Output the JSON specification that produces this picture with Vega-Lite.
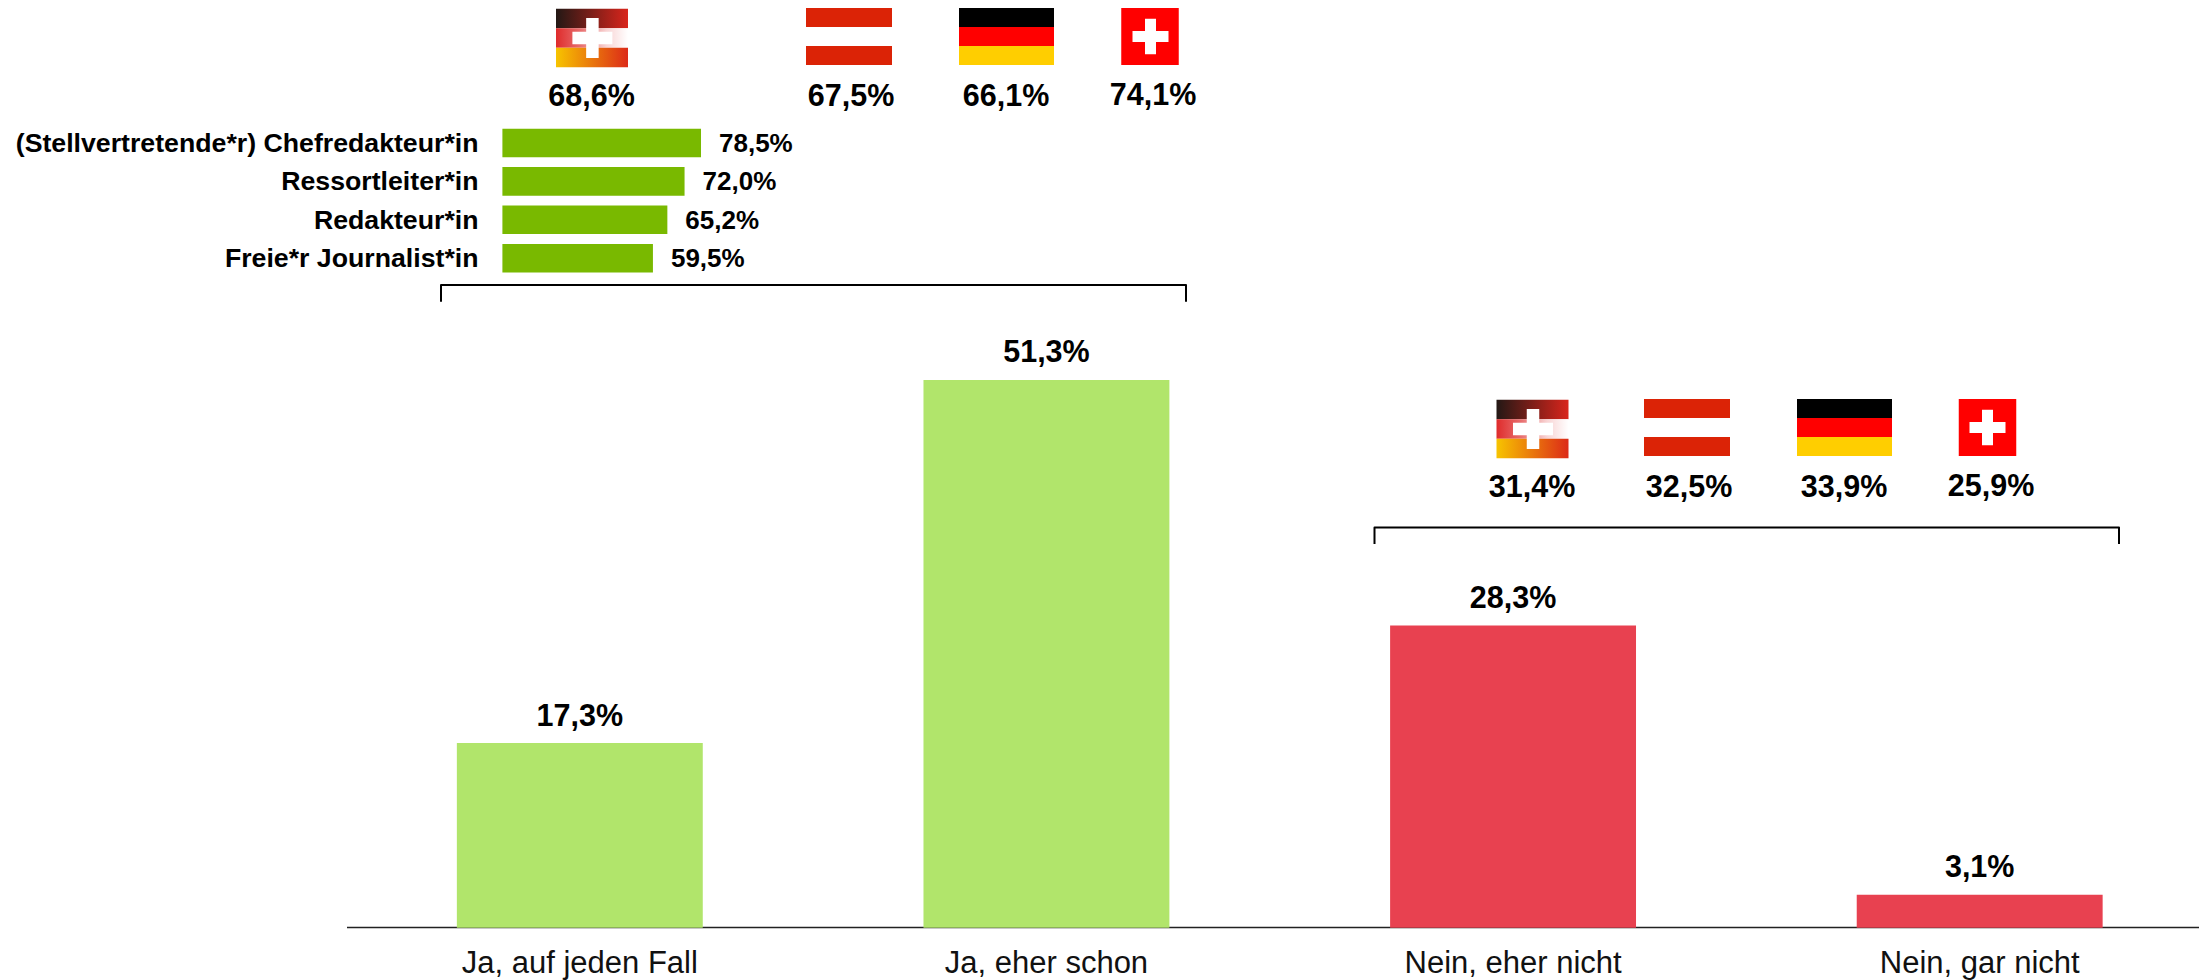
{
"$schema":"https://vega.github.io/schema/vega-lite/v6.json",
"width":2199,"height":980,"padding":0,"autosize":{"type":"none"},
"background":"white",
"config":{"view":{"stroke":null},"font":"Liberation Sans","text":{"font":"Liberation Sans"},"scale":{"pointPadding":0}},
"datasets":{
"haupt":[
{"antwort":"Ja, auf jeden Fall","wert":17.3,"text":"17,3%","richtung":"Ja"},
{"antwort":"Ja, eher schon","wert":51.3,"text":"51,3%","richtung":"Ja"},
{"antwort":"Nein, eher nicht","wert":28.3,"text":"28,3%","richtung":"Nein"},
{"antwort":"Nein, gar nicht","wert":3.1,"text":"3,1%","richtung":"Nein"}],
"position":[
{"position":"(Stellvertretende*r) Chefredakteur*in","wert":78.5,"text":"78,5%"},
{"position":"Ressortleiter*in","wert":72.0,"text":"72,0%"},
{"position":"Redakteur*in","wert":65.2,"text":"65,2%"},
{"position":"Freie*r Journalist*in","wert":59.5,"text":"59,5%"}],
"laender":[
{"gruppe":"Ja","land":"DACH","wert":68.6,"text":"68,6%"},
{"gruppe":"Ja","land":"AT","wert":67.5,"text":"67,5%"},
{"gruppe":"Ja","land":"DE","wert":66.1,"text":"66,1%"},
{"gruppe":"Ja","land":"CH","wert":74.1,"text":"74,1%"},
{"gruppe":"Nein","land":"DACH","wert":31.4,"text":"31,4%"},
{"gruppe":"Nein","land":"AT","wert":32.5,"text":"32,5%"},
{"gruppe":"Nein","land":"DE","wert":33.9,"text":"33,9%"},
{"gruppe":"Nein","land":"CH","wert":25.9,"text":"25,9%"}],
"klammer":[
{"klammer":"Ja","schritt":1,"seite":"links","ebene":"fuss"},
{"klammer":"Ja","schritt":2,"seite":"links","ebene":"kopf"},
{"klammer":"Ja","schritt":3,"seite":"rechts","ebene":"kopf"},
{"klammer":"Ja","schritt":4,"seite":"rechts","ebene":"fuss"},
{"klammer":"Nein","schritt":1,"seite":"links","ebene":"fuss"},
{"klammer":"Nein","schritt":2,"seite":"links","ebene":"kopf"},
{"klammer":"Nein","schritt":3,"seite":"rechts","ebene":"kopf"},
{"klammer":"Nein","schritt":4,"seite":"rechts","ebene":"fuss"}]
},
"resolve":{"scale":{"x":"independent","y":"independent","color":"independent"},"axis":{"x":"independent","y":"independent"}},
"layer":[
{"data":{"name":"haupt"},"mark":{"type":"bar"},
"encoding":{
"x":{"field":"antwort","type":"nominal","sort":null,"scale":{"type":"band","domain":["Ja, auf jeden Fall","Ja, eher schon","Nein, eher nicht","Nein, gar nicht"],"range":[346.5,2213],"paddingInner":0.473,"paddingOuter":0.2365},
"axis":{"title":null,"orient":"bottom","offset":-53,"ticks":false,"labelAngle":0,"labelFontSize":31,"labelFont":"Liberation Sans","labelColor":"#111111","labelPadding":21,"labelLimit":0,"domainColor":"#222222","domainWidth":1.6,"grid":false}},
"y":{"field":"wert","type":"quantitative","scale":{"domain":[0,60],"range":[927.8,287],"nice":false},"axis":null},
"color":{"field":"richtung","type":"nominal","scale":{"domain":["Ja","Nein"],"range":["#B1E56B","#E84150"]},"legend":null}}},
{"data":{"name":"haupt"},"mark":{"type":"text","baseline":"alphabetic","dy":-17.5,"fontSize":30.5,"fontWeight":"bold","color":"#000000"},
"encoding":{
"x":{"field":"antwort","type":"nominal","sort":null,"scale":{"type":"band","domain":["Ja, auf jeden Fall","Ja, eher schon","Nein, eher nicht","Nein, gar nicht"],"range":[346.5,2213],"paddingInner":0.473,"paddingOuter":0.2365},"axis":null},
"y":{"field":"wert","type":"quantitative","scale":{"domain":[0,60],"range":[927.8,287],"nice":false},"axis":null},
"text":{"field":"text"}}},
{"data":{"name":"position"},"mark":{"type":"bar","color":"#79B900"},
"encoding":{
"x":{"field":"wert","type":"quantitative","scale":{"domain":[0,100],"range":[502.4,755.4],"nice":false},"axis":null},
"y":{"field":"position","type":"nominal","sort":null,"scale":{"type":"band","range":[123.8,277.4],"paddingInner":0.255,"paddingOuter":0.1275},
"axis":{"title":null,"orient":"left","offset":-478,"ticks":false,"domain":false,"grid":false,"labelPadding":0,"labelOffset":1,"labelFontSize":26.7,"labelFontWeight":"bold","labelFont":"Liberation Sans","labelColor":"#000000","labelLimit":0}}}},
{"data":{"name":"position"},"mark":{"type":"text","align":"left","dx":18,"dy":1,"fontSize":26,"fontWeight":"bold","color":"#000000"},
"encoding":{
"x":{"field":"wert","type":"quantitative","scale":{"domain":[0,100],"range":[502.4,755.4],"nice":false},"axis":null},
"y":{"field":"position","type":"nominal","sort":null,"scale":{"type":"band","range":[123.8,277.4],"paddingInner":0.255,"paddingOuter":0.1275},"axis":null},
"text":{"field":"text"}}},

{"data":{"name":"klammer"},"transform":[{"filter":"datum.klammer==='Ja'"}],"mark":{"type":"line","color":"#000000","strokeWidth":2,"strokeJoin":"round"},
"encoding":{"order":{"field":"schritt","type":"quantitative"},
"x":{"field":"seite","type":"nominal","scale":{"type":"point","domain":["links","rechts"],"range":[441,1186]},"axis":null},
"y":{"field":"ebene","type":"nominal","scale":{"type":"point","domain":["kopf","fuss"],"range":[285,301.7]},"axis":null}}},
{"data":{"name":"klammer"},"transform":[{"filter":"datum.klammer==='Nein'"}],"mark":{"type":"line","color":"#000000","strokeWidth":2,"strokeJoin":"round"},
"encoding":{"order":{"field":"schritt","type":"quantitative"},
"x":{"field":"seite","type":"nominal","scale":{"type":"point","domain":["links","rechts"],"range":[1374.5,2119]},"axis":null},
"y":{"field":"ebene","type":"nominal","scale":{"type":"point","domain":["kopf","fuss"],"range":[527.5,544]},"axis":null}}},

{"data":{"name":"laender"},"transform":[{"filter":"datum.land==='AT'"}],"mark":{"type":"rect","width":86,"height":19,"color":"#DB2306"},
"encoding":{
"x":{"field":"gruppe","type":"nominal","scale":{"type":"point","domain":["Ja","Nein"],"range":[849,1687]},"axis":null},
"y":{"field":"gruppe","type":"nominal","scale":{"type":"point","domain":["Ja","Nein"],"range":[17.5,408.5]},"axis":null}}},
{"data":{"name":"laender"},"transform":[{"filter":"datum.land==='AT'"}],"mark":{"type":"rect","width":86,"height":19,"color":"#DB2306"},
"encoding":{
"x":{"field":"gruppe","type":"nominal","scale":{"type":"point","domain":["Ja","Nein"],"range":[849,1687]},"axis":null},
"y":{"field":"gruppe","type":"nominal","scale":{"type":"point","domain":["Ja","Nein"],"range":[55.5,446.5]},"axis":null}}},
{"data":{"name":"laender"},"transform":[{"filter":"datum.land==='DE'"}],"mark":{"type":"rect","width":95,"height":19,"color":"#000000"},
"encoding":{
"x":{"field":"gruppe","type":"nominal","scale":{"type":"point","domain":["Ja","Nein"],"range":[1006.5,1844.5]},"axis":null},
"y":{"field":"gruppe","type":"nominal","scale":{"type":"point","domain":["Ja","Nein"],"range":[17.5,408.5]},"axis":null}}},
{"data":{"name":"laender"},"transform":[{"filter":"datum.land==='DE'"}],"mark":{"type":"rect","width":95,"height":19,"color":"#FF0000"},
"encoding":{
"x":{"field":"gruppe","type":"nominal","scale":{"type":"point","domain":["Ja","Nein"],"range":[1006.5,1844.5]},"axis":null},
"y":{"field":"gruppe","type":"nominal","scale":{"type":"point","domain":["Ja","Nein"],"range":[36.5,427.5]},"axis":null}}},
{"data":{"name":"laender"},"transform":[{"filter":"datum.land==='DE'"}],"mark":{"type":"rect","width":95,"height":19,"color":"#FFCE00"},
"encoding":{
"x":{"field":"gruppe","type":"nominal","scale":{"type":"point","domain":["Ja","Nein"],"range":[1006.5,1844.5]},"axis":null},
"y":{"field":"gruppe","type":"nominal","scale":{"type":"point","domain":["Ja","Nein"],"range":[55.5,446.5]},"axis":null}}},
{"data":{"name":"laender"},"transform":[{"filter":"datum.land==='CH'"}],"mark":{"type":"rect","width":57.5,"height":57,"color":"#FF0000"},
"encoding":{
"x":{"field":"gruppe","type":"nominal","scale":{"type":"point","domain":["Ja","Nein"],"range":[1150,1987.5]},"axis":null},
"y":{"field":"gruppe","type":"nominal","scale":{"type":"point","domain":["Ja","Nein"],"range":[36.5,427.5]},"axis":null}}},
{"data":{"name":"laender"},"transform":[{"filter":"datum.land==='CH'"}],"mark":{"type":"rect","width":11,"height":35.5,"color":"#FFFFFF"},
"encoding":{
"x":{"field":"gruppe","type":"nominal","scale":{"type":"point","domain":["Ja","Nein"],"range":[1150.5,1987.5]},"axis":null},
"y":{"field":"gruppe","type":"nominal","scale":{"type":"point","domain":["Ja","Nein"],"range":[36.5,427.5]},"axis":null}}},
{"data":{"name":"laender"},"transform":[{"filter":"datum.land==='CH'"}],"mark":{"type":"rect","width":36,"height":11,"color":"#FFFFFF"},
"encoding":{
"x":{"field":"gruppe","type":"nominal","scale":{"type":"point","domain":["Ja","Nein"],"range":[1150.5,1987.5]},"axis":null},
"y":{"field":"gruppe","type":"nominal","scale":{"type":"point","domain":["Ja","Nein"],"range":[36.5,427.5]},"axis":null}}},

{"data":{"name":"laender"},"transform":[{"filter":"datum.land==='DACH'"}],
"mark":{"type":"rect","width":72,"height":19.5,"color":{"gradient":"linear","x1":0,"x2":1,"y1":0,"y2":0,"stops":[{"offset":0,"color":"#231815"},{"offset":1,"color":"#D9251C"}]}},
"encoding":{
"x":{"field":"gruppe","type":"nominal","scale":{"type":"point","domain":["Ja","Nein"],"range":[592,1532.5]},"axis":null},
"y":{"field":"gruppe","type":"nominal","scale":{"type":"point","domain":["Ja","Nein"],"range":[18.5,409.5]},"axis":null}}},
{"data":{"name":"laender"},"transform":[{"filter":"datum.land==='DACH'"}],
"mark":{"type":"rect","width":72,"height":19.5,"color":{"gradient":"linear","x1":0,"x2":1,"y1":0,"y2":0,"stops":[{"offset":0,"color":"#DF2B2B"},{"offset":0.35,"color":"#E87070"},{"offset":0.7,"color":"#F8D4D4"},{"offset":1,"color":"#FFFFFF"}]}},
"encoding":{
"x":{"field":"gruppe","type":"nominal","scale":{"type":"point","domain":["Ja","Nein"],"range":[592,1532.5]},"axis":null},
"y":{"field":"gruppe","type":"nominal","scale":{"type":"point","domain":["Ja","Nein"],"range":[38,429]},"axis":null}}},
{"data":{"name":"laender"},"transform":[{"filter":"datum.land==='DACH'"}],
"mark":{"type":"rect","width":72,"height":19.5,"color":{"gradient":"linear","x1":0,"x2":1,"y1":0,"y2":0,"stops":[{"offset":0,"color":"#F7C400"},{"offset":1,"color":"#DC2A18"}]}},
"encoding":{
"x":{"field":"gruppe","type":"nominal","scale":{"type":"point","domain":["Ja","Nein"],"range":[592,1532.5]},"axis":null},
"y":{"field":"gruppe","type":"nominal","scale":{"type":"point","domain":["Ja","Nein"],"range":[57.5,448.5]},"axis":null}}},
{"data":{"name":"laender"},"transform":[{"filter":"datum.land==='DACH'"}],"mark":{"type":"rect","width":12.5,"height":40,"color":"#FFFFFF"},
"encoding":{
"x":{"field":"gruppe","type":"nominal","scale":{"type":"point","domain":["Ja","Nein"],"range":[592.4,1533]},"axis":null},
"y":{"field":"gruppe","type":"nominal","scale":{"type":"point","domain":["Ja","Nein"],"range":[38,429]},"axis":null}}},
{"data":{"name":"laender"},"transform":[{"filter":"datum.land==='DACH'"}],"mark":{"type":"rect","width":40,"height":12.5,"color":"#FFFFFF"},
"encoding":{
"x":{"field":"gruppe","type":"nominal","scale":{"type":"point","domain":["Ja","Nein"],"range":[592.4,1533]},"axis":null},
"y":{"field":"gruppe","type":"nominal","scale":{"type":"point","domain":["Ja","Nein"],"range":[38,429]},"axis":null}}},

{"data":{"name":"laender"},"transform":[{"filter":"datum.land==='DACH'"}],"mark":{"type":"text","baseline":"alphabetic","fontSize":30.5,"fontWeight":"bold","color":"#000000"},
"encoding":{"x":{"field":"gruppe","type":"nominal","scale":{"type":"point","domain":["Ja","Nein"],"range":[591.5,1532]},"axis":null},
"y":{"field":"gruppe","type":"nominal","scale":{"type":"point","domain":["Ja","Nein"],"range":[106,497]},"axis":null},"text":{"field":"text"}}},
{"data":{"name":"laender"},"transform":[{"filter":"datum.land==='AT'"}],"mark":{"type":"text","baseline":"alphabetic","fontSize":30.5,"fontWeight":"bold","color":"#000000"},
"encoding":{"x":{"field":"gruppe","type":"nominal","scale":{"type":"point","domain":["Ja","Nein"],"range":[851,1689]},"axis":null},
"y":{"field":"gruppe","type":"nominal","scale":{"type":"point","domain":["Ja","Nein"],"range":[106,497]},"axis":null},"text":{"field":"text"}}},
{"data":{"name":"laender"},"transform":[{"filter":"datum.land==='DE'"}],"mark":{"type":"text","baseline":"alphabetic","fontSize":30.5,"fontWeight":"bold","color":"#000000"},
"encoding":{"x":{"field":"gruppe","type":"nominal","scale":{"type":"point","domain":["Ja","Nein"],"range":[1006,1844]},"axis":null},
"y":{"field":"gruppe","type":"nominal","scale":{"type":"point","domain":["Ja","Nein"],"range":[106,497]},"axis":null},"text":{"field":"text"}}},
{"data":{"name":"laender"},"transform":[{"filter":"datum.land==='CH'"}],"mark":{"type":"text","baseline":"alphabetic","fontSize":30.5,"fontWeight":"bold","color":"#000000"},
"encoding":{"x":{"field":"gruppe","type":"nominal","scale":{"type":"point","domain":["Ja","Nein"],"range":[1153,1991]},"axis":null},
"y":{"field":"gruppe","type":"nominal","scale":{"type":"point","domain":["Ja","Nein"],"range":[105,496]},"axis":null},"text":{"field":"text"}}}
]
}
